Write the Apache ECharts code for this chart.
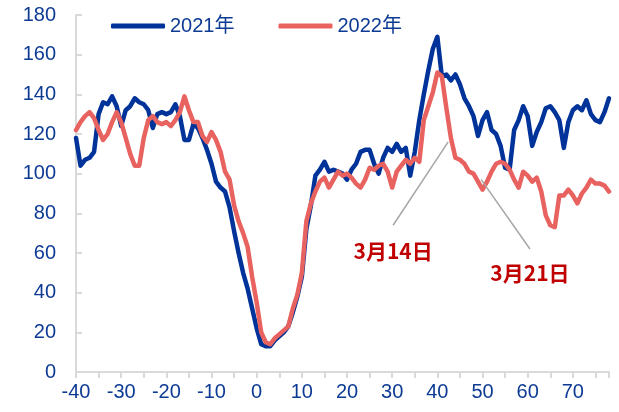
<!DOCTYPE html>
<html>
<head>
<meta charset="utf-8">
<script src="https://cdn.jsdelivr.net/npm/echarts@6/dist/echarts.min.js"></script>
<style>
  html, body { margin: 0; padding: 0; background: #fff; }
  #chart { width: 619px; height: 412px; }
</style>
</head>
<body>
<div id="chart"></div>
<script>
// days relative to Spring Festival
const days = [
  -40,-39,-38,-37,-36,-35,-34,-33,-32,-31,
  -30,-29,-28,-27,-26,-25,-24,-23,-22,-21,
  -20,-19,-18,-17,-16,-15,-14,-13,-12,-11,
  -10,-9,-8,-7,-6,-5,-4,-3,-2,-1,
  0,1,2,3,4,5,6,7,8,9,
  10,11,12,13,14,15,16,17,18,19,
  20,21,22,23,24,25,26,27,28,29,
  30,31,32,33,34,35,36,37,38,39,
  40,41,42,43,44,45,46,47,48,49,
  50,51,52,53,54,55,56,57,58,59,
  60,61,62,63,64,65,66,67,68,69,
  70,71,72,73,74,75,76,77,78
];

const values2021 = [
  118,104,107,108,111,130,136,135,139,134,
  124,132,134,138,136,135,132,123,130,131,
  130,131,135,129,117,117,125,123,118,112,
  105,96,93,91,83,71,60,50,42,32,
  22,14,13,13,16,18,20,23,30,38,
  48,72,84,99,102,106,101,102,101,100,
  97,102,105,111,112,112,105,100,108,113,
  111,115,111,113,99,111,127,140,152,163,
  169,149,150,147,150,145,138,134,129,119,
  127,131,122,120,114,103,102,122,127,134,
  129,114,121,126,133,134,131,127,113,126,
  132,134,132,137,130,127,126,131,138
];

const values2022 = [
  122,126,129,131,128,122,117,120,126,131,
  126,118,110,104,104,118,127,129,126,125,
  126,124,127,131,139,132,126,126,119,116,
  121,117,111,101,97,84,76,70,63,48,
  35,20,15,14,17,19,21,23,32,39,
  50,76,85,91,96,98,93,97,101,99,
  100,98,95,93,97,103,102,104,105,101,
  93,101,104,107,105,108,106,127,134,141,
  151,149,133,118,108,107,105,101,100,96,
  92,96,101,105,106,105,102,97,93,101,
  99,96,98,91,79,74,73,89,89,92,
  89,85,90,93,97,95,95,94,91
];

// annotations, in chart coordinates [day, value]
const noteNames = ['3月14日', '3月21日'];
const noteLineFrom = [[30.2, 74], [49.7, 97]];
const noteLineTo = [[42.4, 116], [60.5, 62]];
const noteTextAt = [[30.2, 61], [60.5, 50]];

const blue = '#003399';
const red = '#E8625F';
const textBlue = '#0D3B94';

const pairs = (vals) => vals.map((v, i) => [days[i], v]);

const chart = echarts.init(document.getElementById('chart'));
chart.setOption({
  animation: false,
  grid: { left: 76, right: 10, top: 15, bottom: 40 },
  legend: {
    left: 106,
    top: 11,
    itemWidth: 54,
    itemHeight: 5,
    itemGap: 44,
    icon: 'roundRect',
    textStyle: { color: textBlue, fontSize: 20, fontFamily: 'Liberation Sans, Noto Sans CJK SC' },
    data: ['2021年', '2022年']
  },
  xAxis: {
    type: 'value',
    min: -40,
    max: 78,
    interval: 5,
    splitLine: { show: false },
    axisLine: { onZero: false, lineStyle: { color: '#D9D9D9', width: 2 } },
    axisTick: { length: 6, lineStyle: { color: '#D9D9D9', width: 2 } },
    axisLabel: {
      color: textBlue,
      fontSize: 20,
      fontFamily: 'Liberation Sans',
      margin: 10,
      formatter: (v) => (v % 10 === 0 ? String(v) : '')
    }
  },
  yAxis: {
    type: 'value',
    min: 0,
    max: 180,
    interval: 20,
    splitLine: { show: false },
    axisLine: { show: true, onZero: false, lineStyle: { color: '#D9D9D9', width: 2 } },
    axisTick: { show: true, inside: true, length: 6, lineStyle: { color: '#D9D9D9', width: 2 } },
    axisLabel: { color: textBlue, fontSize: 20, fontFamily: 'Liberation Sans', margin: 20 }
  },
  series: [
    {
      name: '2021年',
      type: 'line',
      data: pairs(values2021),
      symbol: 'none',
      itemStyle: { color: blue },
      lineStyle: { color: blue, width: 4.5, cap: 'round', join: 'round' }
    },
    {
      name: '2022年',
      type: 'line',
      data: pairs(values2022),
      symbol: 'none',
      itemStyle: { color: red },
      lineStyle: { color: red, width: 4.5, cap: 'round', join: 'round' },
      markLine: {
        silent: true,
        symbol: ['none', 'none'],
        label: { show: false },
        lineStyle: { color: '#A6A6A6', width: 1.5, type: 'solid' },
        data: noteLineFrom.map((p, i) => [{ coord: p }, { coord: noteLineTo[i] }])
      },
      markPoint: {
        silent: true,
        symbol: 'circle',
        symbolSize: 0,
        label: {
          show: true,
          position: 'inside',
          color: '#C00000',
          fontSize: 21,
          fontWeight: 'bold',
          fontFamily: 'Noto Sans CJK SC',
          formatter: (p) => p.name
        },
        data: noteTextAt.map((p, i) => ({ name: noteNames[i], coord: p }))
      }
    }
  ]
});
</script>
</body>
</html>
